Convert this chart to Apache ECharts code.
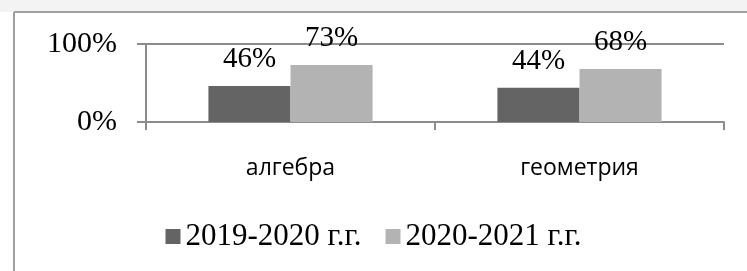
<!DOCTYPE html>
<html lang="ru">
<head>
    <meta charset="UTF-8">
    <script src="https://cdn.jsdelivr.net/npm/echarts@6/dist/echarts.min.js"></script>
    <title>Chart</title>
    <style>
        html, body { margin: 0; padding: 0; background: #fff; }
    </style>
</head>
<body>
    <div id="chart" style="width: 747px;height:271px;"></div>
</body>
<script type="text/javascript">
    // данные
    var categories = ['алгебра', 'геометрия'];
    var seriesNames = ['2019-2020 г.г.', '2020-2021 г.г.'];
    var values2019 = [46, 44];
    var values2020 = [73, 68];
    var yTicks = [0, 100]; // подписи: 0%, 100%

    var serif = '"Liberation Serif", "Times New Roman", serif';
    var lineColor = '#8c8c8c';

    var chart = echarts.init(document.getElementById('chart'));
    chart.setOption({
        animation: false,
        color: ['#646464', '#b3b3b3'],
        graphic: [
            { type: 'rect', shape: {x: 0, y: 0, width: 747, height: 12}, style: {fill: '#f3f3f3'}, silent: true },
            { type: 'line', shape: {x1: 14, y1: 12, x2: 747, y2: 12}, style: {stroke: '#a0a0a0', lineWidth: 2}, silent: true },
            { type: 'line', shape: {x1: 14, y1: 12, x2: 14, y2: 271}, style: {stroke: '#a0a0a0', lineWidth: 2}, silent: true }
        ],
        grid: { left: 146, right: 23, top: 44, bottom: 149 },
        legend: {
            data: seriesNames,
            left: 'center',
            top: 216,
            icon: 'rect',
            itemWidth: 15,
            itemHeight: 15,
            itemGap: 24,
            textStyle: { fontFamily: serif, fontSize: 31, color: '#000' }
        },
        xAxis: {
            type: 'category',
            data: categories,
            axisLine: { lineStyle: { color: lineColor, width: 2 } },
            axisTick: { show: true, length: 8, interval: 0, lineStyle: { color: lineColor, width: 2 } },
            axisLabel: {
                interval: 0,
                margin: 35,
                fontFamily: '"Open Sans", sans-serif',
                fontSize: 23,
                color: '#000'
            }
        },
        yAxis: {
            type: 'value',
            min: yTicks[0],
            max: yTicks[yTicks.length - 1],
            interval: 100,
            axisLine: { show: true, lineStyle: { color: lineColor, width: 2 } },
            axisTick: { show: true, length: 9, lineStyle: { color: lineColor, width: 2 } },
            splitLine: { show: true, lineStyle: { color: lineColor, width: 2 } },
            axisLabel: {
                margin: 29,
                formatter: '{value}%',
                fontFamily: serif,
                fontSize: 30,
                color: '#000'
            }
        },
        series: [
            {
                name: seriesNames[0],
                type: 'bar',
                data: values2019,
                barWidth: '28.4%',
                barGap: '0%',
                label: { show: true, position: 'top', distance: 12, formatter: '{c}%', fontFamily: serif, fontSize: 29, color: '#000' }
            },
            {
                name: seriesNames[1],
                type: 'bar',
                data: values2020,
                barWidth: '28.4%',
                barGap: '0%',
                label: { show: true, position: 'top', distance: 12, formatter: '{c}%', fontFamily: serif, fontSize: 29, color: '#000' }
            }
        ]
    });
</script>
</html>
